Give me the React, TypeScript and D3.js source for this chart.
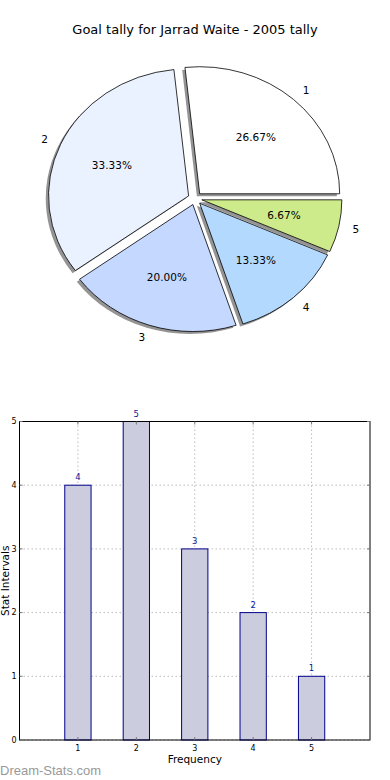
import React from 'react'
import * as d3 from 'd3'

const title = 'Goal tally for Jarrad Waite - 2005 tally'
const sliceLabels = ['1', '2', '3', '4', '5']
const sliceValues = [4, 5, 3, 2, 1]
const sliceColors = ['#ffffff', '#eaf1ff', '#c5d8ff', '#b4d9ff', '#ceeb8b']

const barCategories = [1, 2, 3, 4, 5]
const barValues = [4, 5, 3, 2, 1]
const yTicks = [0, 1, 2, 3, 4, 5]

const font = 'DejaVu Sans, sans-serif'

const App = () => {
    // pie geometry (matplotlib style: counter clockwise from 3 o'clock, not equal aspect)
    const cx = 195
    const cy = 198.5
    const rx = 140
    const ry = 127
    const explode = 0.05

    const pie = d3.pie<number>().sort(null)(sliceValues)
    const total = d3.sum(sliceValues)
    const arc = d3.arc<any>().innerRadius(0).outerRadius(1)

    const slices = pie.map((p, i) => {
        const t1 = p.startAngle
        const t2 = p.endAngle
        const tm = (t1 + t2) / 2
        const ox = cx + explode * rx * Math.cos(tm)
        const oy = cy - explode * ry * Math.sin(tm)
        const path = arc({ startAngle: Math.PI / 2 - t2, endAngle: Math.PI / 2 - t1 })
        return { i, tm, ox, oy, path }
    })

    // bar chart
    const margin = { left: 19.5, right: 370, top: 421.5, bottom: 740 }
    const x = d3.scaleLinear().domain([0, 6]).range([margin.left, margin.right])
    const y = d3.scaleLinear().domain([0, 5]).range([margin.bottom, margin.top])
    const barW = x(0.45) - x(0)

    return (
        <svg
            width={390}
            height={780}
            style={{ position: 'absolute', left: 0, top: 0, display: 'block', background: '#fff' }}
            fontFamily={font}
        >
            <text x={195} y={34} textAnchor="middle" fontSize={13} fill="#000">
                {title}
            </text>

            {/* shadows first */}
            {slices.map((s) => (
                <path
                    key={'sh' + s.i}
                    d={s.path}
                    transform={`translate(${s.ox - 0.02 * rx},${s.oy + 0.02 * ry}) scale(${rx},${ry})`}
                    fill="#4d4d4d"
                    fillOpacity={0.6}
                />
            ))}
            {slices.map((s) => (
                <path
                    key={'w' + s.i}
                    d={s.path}
                    transform={`translate(${s.ox},${s.oy}) scale(${rx},${ry})`}
                    fill={sliceColors[s.i]}
                    stroke="#000"
                    strokeWidth={0.8}
                    vectorEffect="non-scaling-stroke"
                />
            ))}
            {slices.map((s) => {
                const c = Math.cos(s.tm)
                const lx = s.ox + 1.1 * rx * c
                const ly = s.oy - 1.1 * ry * Math.sin(s.tm)
                const px = s.ox + 0.6 * rx * c
                const py = s.oy - 0.6 * ry * Math.sin(s.tm)
                return (
                    <g key={'l' + s.i} fontSize={10.5} fill="#000">
                        <text x={lx} y={ly} dy="0.35em" textAnchor={c > 0 ? 'start' : 'end'}>
                            {sliceLabels[s.i]}
                        </text>
                        <text x={px} y={py} dy="0.35em" textAnchor="middle">
                            {((sliceValues[s.i] / total) * 100).toFixed(2) + '%'}
                        </text>
                    </g>
                )
            })}

            {/* grid */}
            {barCategories.map((c) => (
                <line
                    key={'gx' + c}
                    x1={x(c)}
                    x2={x(c)}
                    y1={margin.top}
                    y2={margin.bottom}
                    stroke="#bdbdbd"
                    strokeWidth={1}
                    strokeDasharray="1.5,2.5"
                />
            ))}
            {yTicks.map((t) => (
                <line
                    key={'gy' + t}
                    x1={margin.left}
                    x2={margin.right}
                    y1={y(t)}
                    y2={y(t)}
                    stroke="#bdbdbd"
                    strokeWidth={1}
                    strokeDasharray="1.5,2.5"
                />
            ))}

            {/* bars */}
            {barValues.map((v, i) => (
                <g key={'b' + i}>
                    <rect
                        x={x(barCategories[i]) - barW / 2}
                        y={y(v)}
                        width={barW}
                        height={y(0) - y(v)}
                        fill="#ccccdf"
                        stroke="#00008b"
                        strokeWidth={1}
                    />
                    <text
                        x={x(barCategories[i])}
                        y={y(v) - 5}
                        textAnchor="middle"
                        fontSize={8.5}
                        fill="#0a1a9a"
                    >
                        {v}
                    </text>
                </g>
            ))}

            {/* axes frame */}
            <rect
                x={margin.left}
                y={margin.top}
                width={margin.right - margin.left}
                height={margin.bottom - margin.top}
                fill="none"
                stroke="#000"
                strokeWidth={1}
            />

            {/* ticks */}
            {barCategories.map((c) => (
                <g key={'tx' + c}>
                    <line x1={x(c)} x2={x(c)} y1={margin.bottom} y2={margin.bottom - 3} stroke="#777" />
                    <line x1={x(c)} x2={x(c)} y1={margin.top} y2={margin.top + 3} stroke="#777" />
                    <text x={x(c)} y={margin.bottom + 11} textAnchor="middle" fontSize={8} fill="#000">
                        {c}
                    </text>
                </g>
            ))}
            {yTicks.map((t) => (
                <g key={'ty' + t}>
                    <line x1={margin.left} x2={margin.left + 3} y1={y(t)} y2={y(t)} stroke="#777" />
                    <line x1={margin.right} x2={margin.right - 3} y1={y(t)} y2={y(t)} stroke="#777" />
                    <text x={margin.left - 3} y={y(t)} dy="0.35em" textAnchor="end" fontSize={8} fill="#000">
                        {t}
                    </text>
                </g>
            ))}

            <text x={(margin.left + margin.right) / 2} y={763} textAnchor="middle" fontSize={10.5} fill="#000">
                Frequency
            </text>
            <text
                transform={`translate(8.5,${(margin.top + margin.bottom) / 2}) rotate(-90)`}
                textAnchor="middle"
                fontSize={10.5}
                fill="#000"
            >
                Stat Intervals
            </text>

            <text x={0} y={775} fontSize={13} fill="#999" fontFamily="Liberation Sans, Arial, sans-serif">
                Dream-Stats.com
            </text>
        </svg>
    )
}

export default App
